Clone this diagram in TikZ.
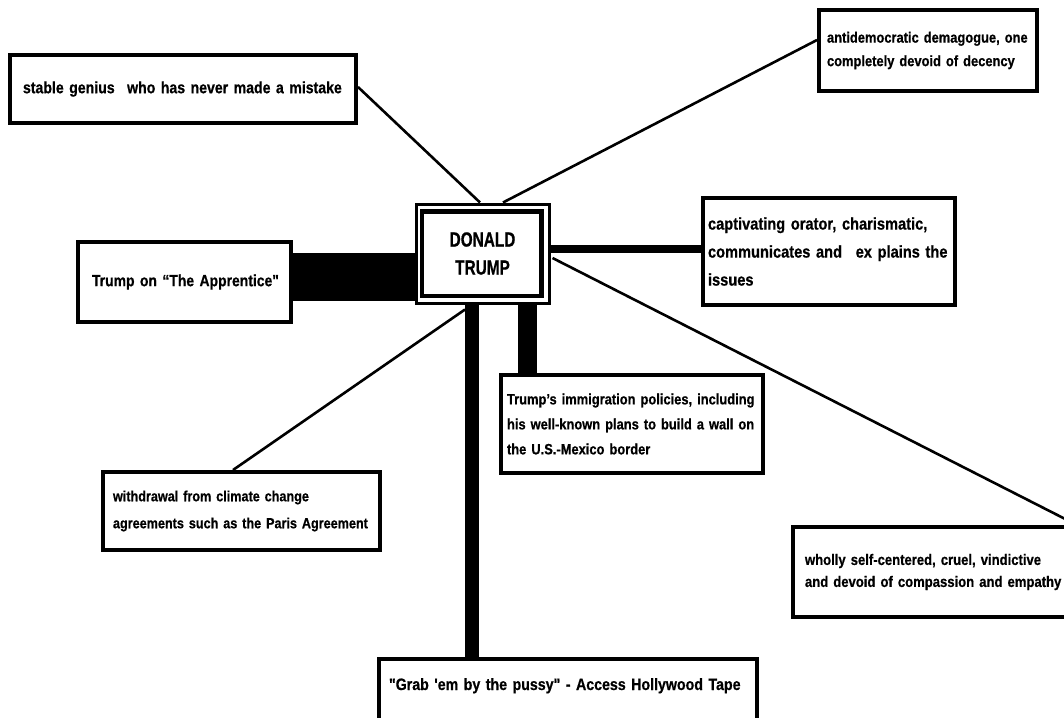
\documentclass[tikz,border=0pt]{standalone}
\usepackage{fontspec}
\newfontfamily\lab{Liberation Sans}[FakeStretch=0.86, BoldFeatures={FakeBold=0.6}]
\newfontfamily\labc{Liberation Sans}[FakeStretch=0.75, BoldFeatures={FakeBold=0.6}]
\usetikzlibrary{calc}
\tikzset{
  box/.style={draw, line width=4pt, rectangle, inner ysep=0pt, align=left},
  conn/.style={line width=2.6pt},
}
\newcommand{\fs}[2]{\lab\bfseries\fontsize{#1}{#2}\selectfont}
\begin{document}
\begin{tikzpicture}[x=1pt,y=-1pt]
\useasboundingbox (0,0) rectangle (1064,717);
\fill[white] (0,0) rectangle (1064,717);
\clip (0,0) rectangle (1064,717);

% nodes
\node[box, minimum width=346pt, minimum height=68pt, text width=320pt, inner xsep=13pt, font=\fs{16.4}{20}]
  (s1) at (183,89) {\mbox{stable genius\hspace{7pt} who has never made a mistake}};
\node[box, minimum width=218pt, minimum height=81pt, text width=202pt, inner xsep=8pt, font=\fs{15}{23.5}]
  (s2) at (928,50.5) {\mbox{antidemocratic demagogue, one}\\\mbox{completely devoid of decency}};
\node[draw, line width=3pt, minimum width=133pt, minimum height=99pt, inner sep=0pt, align=center,
  font={\labc\bfseries\fontsize{20.5}{28}\selectfont}]
  (c) at (482.5,253.5) {DONALD\\TRUMP};
\draw[line width=4.5pt] ($(c.north west)+(7.5,9)$) rectangle ($(c.south east)+(-9,-8.5)$);
\node[box, minimum width=213pt, minimum height=80pt, text width=185pt, inner xsep=14pt, font=\fs{16.2}{20}]
  (a) at (184.5,282) {\mbox{Trump on “The Apprentice"}};
\node[box, minimum width=252pt, minimum height=107pt, text width=242pt, inner xsep=5pt, font=\fs{17}{28}]
  (cap) at (829,251.5) {\mbox{captivating orator, charismatic,}\\\mbox{communicates and\hspace{8pt} ex plains the}\\\mbox{issues}};
\node[box, minimum width=262pt, minimum height=98pt, text width=250pt, inner xsep=6pt, font=\fs{15}{25}]
  (im) at (632,424) {\mbox{Trump’s immigration policies, including}\\\mbox{his well-known plans to build a wall on}\\\mbox{the U.S.-Mexico border}};
\node[box, minimum width=277pt, minimum height=78pt, text width=257pt, inner xsep=10pt, font=\fs{14.7}{27}]
  (w) at (241.5,511) {\mbox{withdrawal from climate change}\\\mbox{agreements such as the Paris Agreement}};
\node[box, minimum width=282pt, minimum height=90pt, text width=258pt, inner xsep=12pt, font=\fs{15.2}{22}]
  (wh) at (934,572) {\mbox{wholly self-centered, cruel, vindictive}\\\mbox{and devoid of compassion and empathy}};
\node[box, anchor=north west, minimum width=378pt, text width=358pt, inner xsep=10pt, inner ysep=19pt,
  text height=12pt, text depth=60pt, font=\fs{16.5}{20}]
  (g) at (377,657) {\mbox{"Grab 'em by the pussy" - Access Hollywood Tape}};

% connectors
\draw[conn] ($(s1.east)+(0,-2)$) -- ($(c.north)+(-2.5,0)$);
\draw[conn] ($(c.north)+(20.5,0)$) -- ($(s2.west)+(0,-10.5)$);
\fill ($(a.east)+(0,-29)$) rectangle ($(c.west)+(0,47.5)$);
\draw[line width=8pt] ($(c.east)+(0,-4.5)$) -- ($(cap.west)+(0,-2.5)$);
\fill ($(c.south)+(35.5,0)$) rectangle ($(im.north)+(-95,0)$);
\fill ($(c.south)+(-17.5,0)$) rectangle ($(g.north)+(-89,0)$);
\draw[conn] ($(w.north)+(-8.5,0)$) -- ($(c.south)+(-17.5,5)$);
\draw[conn] ($(c.east)+(2,4.5)$) -- (wh.north east);
\end{tikzpicture}
\end{document}
